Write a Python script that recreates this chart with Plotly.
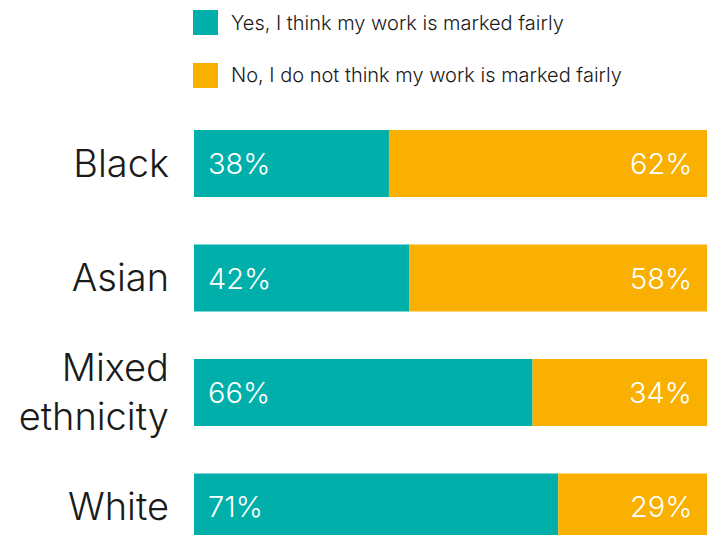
import plotly.graph_objects as go

categories = ["Black", "Asian", "Mixed<br>ethnicity", "White"]
yes_values = [38, 42, 66, 71]
no_values = [62, 58, 34, 29]
series_names = ["Yes, I think my work is marked fairly",
                "No, I do not think my work is marked fairly"]

TEAL = "#00AFA9"
ORANGE = "#F9B000"
TEXT = "#1a1a1a"
FONT = "Inter"

fig = go.Figure()
fig.add_trace(go.Bar(y=categories, x=yes_values, orientation="h", name=series_names[0],
                     marker=dict(color=TEAL, line=dict(width=0)), width=0.585, showlegend=False,
                     hoverinfo="skip"))
fig.add_trace(go.Bar(y=categories, x=no_values, orientation="h", name=series_names[1],
                     base=yes_values,
                     marker=dict(color=ORANGE, line=dict(width=0)), width=0.585, showlegend=False,
                     hoverinfo="skip"))

# value labels
for c, v in zip(categories, yes_values):
    fig.add_annotation(x=0, y=c, text=f"{v}%", xanchor="left", xshift=12, showarrow=False,
                       font=dict(family=FONT, size=29, color="white", weight=300))
for c, y, v in zip(categories, yes_values, no_values):
    fig.add_annotation(x=y + v, y=c, text=f"{v}%", xanchor="right", xshift=-13, showarrow=False,
                       font=dict(family=FONT, size=29, color="white", weight=300))

# legend (manual)
W, H = 707, 535
ml, mt = 194, 100
pw, ph = W - ml, H - mt
def px(x): return (x - ml) / pw
def py(y): return (H - y) / ph

colors = [TEAL, ORANGE]
legend_y = [22.5, 75.5]
for name, col, yc in zip(series_names, colors, legend_y):
    fig.add_shape(type="rect", xref="paper", yref="paper",
                  x0=px(193), x1=px(218), y0=py(yc - 12.5), y1=py(yc + 12.5),
                  fillcolor=col, line=dict(width=0))
    fig.add_annotation(xref="paper", yref="paper", x=px(229), y=py(yc), text=name,
                       xanchor="left", yanchor="middle", showarrow=False,
                       font=dict(family=FONT, size=20, color=TEXT, weight=300))

fig.update_layout(
    width=W, height=H,
    margin=dict(l=ml, r=0, t=mt, b=0),
    paper_bgcolor="white", plot_bgcolor="white",
    barmode="overlay",
    xaxis=dict(range=[0, 100], visible=False, fixedrange=True),
    yaxis=dict(categoryorder="array", categoryarray=categories,
               range=[3.245, -0.555], showgrid=False, zeroline=False, showline=False,
               ticks="", ticklabelstandoff=24,
               tickfont=dict(family=FONT, size=38, color=TEXT, weight=300)),
    showlegend=False,
)

fig.write_html("out.html")
